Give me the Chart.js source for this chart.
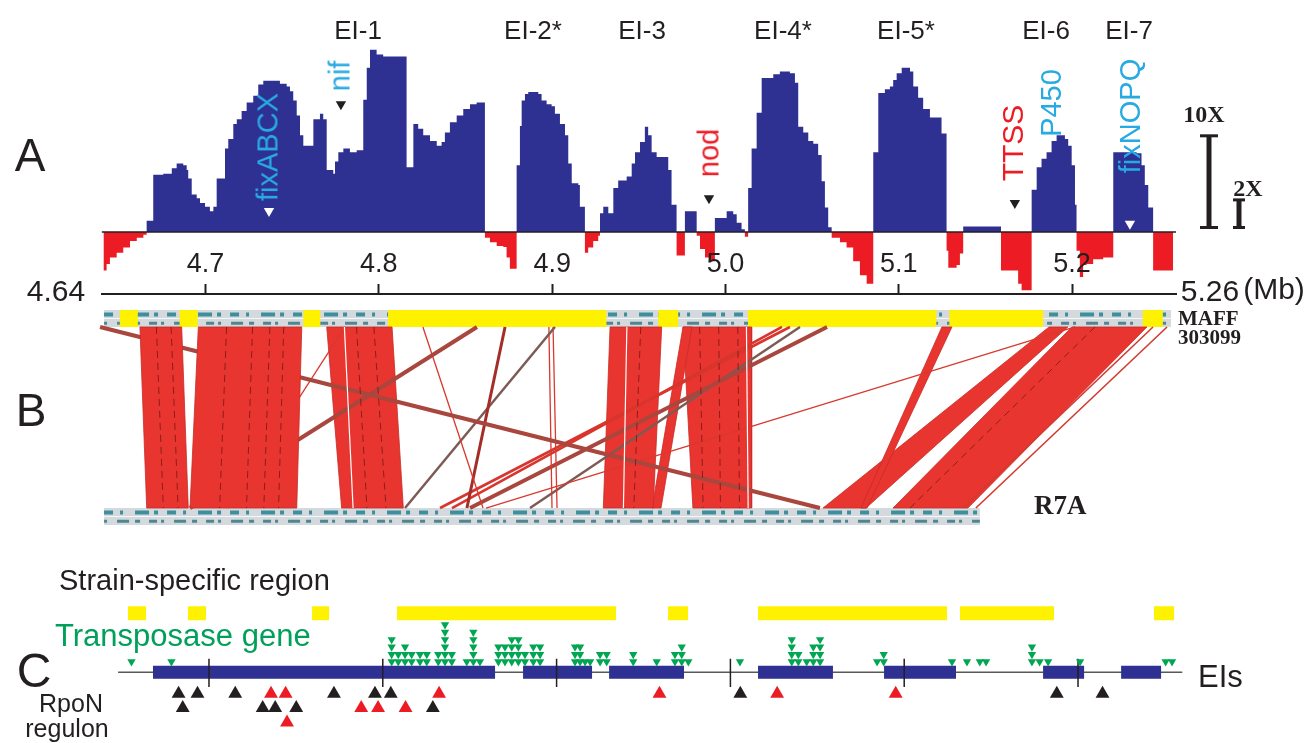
<!DOCTYPE html>
<html>
<head>
<meta charset="utf-8">
<title>EI profile, synteny and gene map</title>
<script src="https://cdn.jsdelivr.net/npm/chart.js@4.4.1/dist/chart.umd.min.js"></script>
<style>
html,body{margin:0;padding:0;background:#fff;}
#wrap{position:relative;width:1308px;height:743px;overflow:hidden;background:#fff;font-family:"Liberation Sans",Arial,Helvetica,sans-serif;color:#231f20;}
canvas{position:absolute;left:0;}
.t{position:absolute;white-space:nowrap;line-height:1;transform:translate(-50%,-50%);}
.l{position:absolute;white-space:nowrap;line-height:1;transform:translate(0,-50%);}
.r{position:absolute;white-space:nowrap;line-height:1;transform:translate(-50%,-50%) rotate(-90deg);}
.serif{font-family:"Liberation Serif","Times New Roman",serif;font-weight:bold;}
</style>
</head>
<body>
<div id="wrap">
<canvas id="cA" width="1308" height="300" style="top:0px"></canvas>
<canvas id="cS" width="84" height="300" style="top:0px;left:1182px"></canvas>
<canvas id="cB" width="1308" height="235" style="top:300px"></canvas>
<canvas id="cC" width="1308" height="150" style="top:590px"></canvas>

<!-- panel letters -->
<div class="t" style="left:30px;top:155px;font-size:46px">A</div>
<div class="t" style="left:31px;top:410px;font-size:46px">B</div>
<div class="t" style="left:34px;top:671px;font-size:48px">C</div>

<!-- EI labels -->
<div class="t" style="left:358px;top:30px;font-size:26px">EI-1</div>
<div class="t" style="left:533px;top:30px;font-size:26px">EI-2*</div>
<div class="t" style="left:642px;top:30px;font-size:26px">EI-3</div>
<div class="t" style="left:783px;top:30px;font-size:26px">EI-4*</div>
<div class="t" style="left:906px;top:30px;font-size:26px">EI-5*</div>
<div class="t" style="left:1046px;top:30px;font-size:26px">EI-6</div>
<div class="t" style="left:1129px;top:30px;font-size:26px">EI-7</div>

<!-- gene labels -->
<div class="r" style="left:268px;top:147px;font-size:29px;color:#27aae1">fixABCX</div>
<div class="r" style="left:340px;top:76px;font-size:29px;color:#27aae1">nif</div>
<div class="r" style="left:709px;top:153px;font-size:29px;color:#ed1c24">nod</div>
<div class="r" style="left:1013px;top:143px;font-size:30px;color:#ed1c24">TTSS</div>
<div class="r" style="left:1051px;top:103px;font-size:29px;color:#27aae1">P450</div>
<div class="r" style="left:1130px;top:116px;font-size:29px;color:#27aae1">fixNOPQ</div>

<!-- scale bar labels -->
<div class="t serif" style="left:1204px;top:114px;font-size:24px">10X</div>
<div class="t serif" style="left:1248px;top:188px;font-size:24px">2X</div>

<!-- axis end labels -->
<div class="t" style="left:56px;top:291px;font-size:30px">4.64</div>
<div class="t" style="left:1210px;top:291px;font-size:30px">5.26</div>
<div class="t" style="left:1274px;top:289px;font-size:30px">(Mb)</div>

<!-- panel B labels -->
<div class="l serif" style="left:1178px;top:318px;font-size:21px">MAFF</div>
<div class="l serif" style="left:1178px;top:337px;font-size:21px">303099</div>
<div class="l serif" style="left:1034px;top:505px;font-size:27px">R7A</div>

<!-- panel C labels -->
<div class="l" style="left:59px;top:580px;font-size:29px">Strain-specific region</div>
<div class="l" style="left:55px;top:635px;font-size:31px;color:#00a05a">Transposase gene</div>
<div class="l" style="left:1198px;top:676px;font-size:31px">EIs</div>
<div class="t" style="left:71px;top:703px;font-size:25px">RpoN</div>
<div class="t" style="left:67px;top:728px;font-size:25px">regulon</div>
</div>

<script>
// ---------------- DATA ----------------
// Panel A: axis ticks (Mb)
const tickValues = [4.7, 4.8, 4.9, 5.0, 5.1, 5.2];

// Panel A: log10 enrichment profile (step starts, Mb) and values
const profileMb = [4.6410,4.6429,4.6448,4.6487,4.6525,4.6564,4.6603,4.6641,
 4.6660,4.6698,4.6756,4.6805,4.6833,4.6871,4.6891,4.6900,4.6920,4.6949,4.6968,4.6997,4.7025,4.7045,4.7064,
 4.7112,4.7131,4.7160,4.7180,4.7208,4.7237,4.7275,4.7304,4.7333,4.7429,4.7468,4.7487,4.7506,4.7526,4.7545,
 4.7564,4.7622,4.7660,4.7679,4.7699,4.7737,4.7747,4.7766,4.7795,4.7833,4.7872,4.7910,4.7930,4.7949,4.7987,
 4.8025,4.8160,4.8199,4.8227,4.8256,4.8295,4.8334,4.8362,4.8381,4.8410,4.8449,4.8487,4.8526,4.8564,
 4.8612,4.8641,4.8680,4.8718,4.8737,4.8756,
 4.8795,4.8814,4.8824,4.8843,4.8862,4.8920,4.8939,4.8968,4.8997,4.9016,4.9045,4.9074,4.9093,4.9113,4.9151,4.9160,
 4.9189,4.9208,4.9237,4.9266,
 4.9276,4.9295,4.9324,4.9353,4.9381,4.9430,4.9459,4.9478,4.9507,4.9535,4.9554,4.9574,4.9603,4.9670,4.9689,
 4.9718,4.9766,4.9834,4.9853,4.9882,4.9910,
 4.9939,5.0007,5.0045,5.0065,5.0093,5.0112,
 5.0131,5.0151,5.0180,5.0209,5.0276,5.0314,5.0372,5.0401,5.0420,5.0449,5.0478,5.0507,5.0535,5.0555,5.0574,5.0593,
 5.0613,5.0661,5.0699,5.0737,5.0776,5.0815,
 5.0853,5.0882,5.0920,5.0949,5.0968,5.0988,5.1017,5.1065,5.1084,5.1112,5.1141,5.1180,5.1247,
 5.1276,5.1286,5.1334,5.1353,5.1372,5.1590,5.1689,5.1709,
 5.1767,5.1796,5.1824,5.1853,5.1882,5.1911,5.1959,5.1978,5.1998,5.2017,
 5.2026,5.2045,5.2064,5.2084,5.2122,5.2180,
 5.2238,5.2373,5.2401,5.2420,5.2440,5.2468,5.2584];
const profileLogRatio = [-0.41,-0.34,-0.27,-0.22,-0.165,-0.095,-0.06,-0.03,
 0.12,0.61,0.62,0.68,0.73,0.71,0.66,0.57,0.40,0.36,0.31,0.27,0.22,0.27,0.57,
 0.89,0.99,1.15,1.20,1.29,1.38,1.45,1.57,1.61,1.58,1.55,1.50,1.40,1.24,1.03,
 0.92,1.20,1.26,1.20,0.66,0.62,0.75,0.85,0.89,0.85,0.87,1.41,1.75,1.94,1.89,
 1.87,0.69,1.15,1.10,1.03,0.97,0.92,0.96,1.06,1.17,1.24,1.31,1.36,1.38,
 -0.06,-0.11,-0.15,-0.16,-0.27,-0.39,
 0.71,1.13,1.40,1.47,1.49,1.47,1.40,1.36,1.34,1.26,1.15,1.03,0.73,0.52,0.50,0.27,
 -0.22,-0.165,-0.095,-0.04,
 0.20,0.27,0.20,0.47,0.55,0.59,0.73,0.85,0.96,1.12,1.03,0.85,0.80,0.66,0.29,
 -0.25,0.22,-0.04,-0.18,-0.27,-0.31,
 0.15,0.22,0.19,0.10,0.03,-0.05,
 0.47,0.89,1.27,1.64,1.68,1.71,1.69,1.59,1.12,1.06,0.97,0.94,0.82,0.54,0.26,0.05,
 -0.06,-0.11,-0.165,-0.31,-0.46,-0.55,
 0.85,1.48,1.52,1.55,1.62,1.69,1.75,1.71,1.55,1.43,1.31,1.22,1.05,
 -0.20,-0.38,-0.35,-0.23,0.06,-0.41,-0.55,-0.62,
 0.45,0.69,0.78,0.85,0.97,1.03,0.99,0.92,0.71,0.29,
 -0.20,-0.48,-0.35,-0.34,-0.29,-0.27,
 0.85,0.84,0.71,0.50,0.26,-0.41,-0.41];

// Panel A: gene markers (position Mb, log10 height)
const markerWhiteMb = [4.7366, 5.2334];
const markerWhiteLog = [0.224, 0.087];
const markerBlackMb = [4.7781, 4.9905, 5.1670];
const markerBlackLog = [1.361, 0.361, 0.308];

// Panel A: scale bars (log10 of fold change)
const scaleBarLabels = ['10X', '2X'];
const scaleBarLog = [1.0, 0.301];

// Strain-specific regions (Mb)
const strainStart = [4.6534, 4.6879, 4.7593, 4.8082, 4.9641, 5.0159, 5.1321, 5.2437];
const strainEnd   = [4.6638, 4.6983, 4.7691, 4.9342, 4.9756, 5.1246, 5.1862, 5.2553];

// Panel B: genome tracks (Mb on plotted axis)
const mafTrack = [4.6443, 5.2623];
const r7aTrack = [4.6443, 5.1497];

// Panel B: syntenic blocks (MAFF 303099 start/end, R7A start/end)
const ribbonMafStart = [4.6650, 4.6987, 4.7728, 4.9363, 4.9784, 4.9784, 5.1278, 5.1896, 5.2028];
const ribbonMafEnd   = [4.6891, 4.7584, 4.8105, 4.9661, 4.9836, 5.0180, 5.1336, 5.2005, 5.2461];
const ribbonR7aStart = [4.6689, 4.6939, 4.7814, 4.9324, 4.9605, 4.9841, 5.0811, 5.0592, 5.0996];
const ribbonR7aEnd   = [4.6929, 4.7555, 4.8170, 4.9612, 4.9657, 5.0180, 5.0846, 5.0840, 5.1428];

// Panel B: single matches (MAFF position, R7A position, kind)
const linkMaf = [4.6420, 4.8595, 4.7833, 4.8283, 4.8757, 4.9045, 4.9010, 4.9034, 5.2046, 5.0401, 5.0355, 5.0615, 5.0459, 5.2496, 5.2577, 5.2161,
 4.6745, 4.6830, 4.7150, 4.7300, 4.7400, 4.7480, 4.7900, 4.8000, 4.9540, 4.9880, 4.9990, 5.0100, 4.7830, 4.9460, 5.0150];
const linkR7a = [5.0574, 4.6939, 4.7158, 4.8630, 4.8537, 4.8180, 4.9028, 4.9057, 4.8647, 4.8382, 4.8451, 4.8555, 4.8901, 5.1399, 5.1474, 5.1094,
 4.6785, 4.6870, 4.7110, 4.7265, 4.7365, 4.7450, 4.7960, 4.8070, 4.9500, 4.9900, 5.0000, 5.0110, 4.7880, 4.9440, 5.0160];
const linkKind = ['brown','brown','thin','thin','darkred','grey','thin','thin','thin','red','red','brown','grey','outline','outline','inner',
 'inner','inner','inner','inner','inner','inner','inner','inner','inner','inner','inner','inner','gap','gap','gap'];

// Panel C: EIs (Mb)
const eiLine = [4.6477, 5.2616];
const eiStart = [4.6678, 4.8807, 4.9302, 5.0159, 5.0884, 5.1799, 5.2248];
const eiEnd   = [4.8646, 4.9204, 4.9733, 5.0590, 5.1298, 5.2035, 5.2478];

// Panel C: transposase genes (Mb, number stacked)
const transposaseMb = [4.6554,4.6784,4.8051,4.8089,4.8128,4.8166,4.8214,4.8253,4.8319,4.8358,4.8397,4.8483,4.8521,4.8559,
 4.8665,4.8703,4.8742,4.8780,4.8818,4.8866,4.8905,4.9106,4.9135,4.9164,4.9193,4.9250,4.9288,4.9441,4.9576,4.9681,4.9720,4.9758,
 5.0055,5.0353,5.0391,5.0439,5.0477,5.0516,5.0844,5.0882,5.1275,5.1361,5.1435,5.1471,5.1735,5.1779,5.1828,5.2012,5.2504,5.2541];
const transposaseCount = [1,1,4,2,3,2,2,2,2,6,2,1,5,1,
 3,3,4,4,2,3,3,3,3,1,1,2,2,2,1,2,3,1,
 1,4,2,1,3,4,1,2,1,1,1,1,3,1,1,1,1,1];

// Panel C: RpoN regulon (Mb, row)
const rpoNBlackMb  = [4.6825,4.6934,4.7151,4.7719,4.7955,4.8046,4.6849,4.7309,4.7381,4.7502,4.8288,5.0057,5.1878,5.2141];
const rpoNBlackRow = [1,1,1,1,1,1,2,2,2,2,2,1,1,1];
const rpoNRedMb    = [4.7357,4.7441,4.8324,4.7876,4.7973,4.8131,4.7449,4.9592,5.0269,5.0951];
const rpoNRedRow   = [1,1,1,2,2,2,3,1,1,1];

// ---------------- STYLE / LAYOUT ----------------
const INK='#231f20', BLUE='#2e3192', RED='#ed1c24', YELLOW='#fff200', GREEN='#00a651', RIB='#e8352f';
Chart.defaults.font.family = '"Liberation Sans", Arial, Helvetica, sans-serif';
Chart.defaults.color = INK;
const common = {responsive:false, maintainAspectRatio:false, animation:false, events:[],
  plugins:{legend:{display:false}, tooltip:{enabled:false}}};
const Y_A = {type:'linear', min:-0.66, max:2.045, display:false};
function segs(starts, ends, y){
  const out=[];
  starts.forEach((s,i)=>{ out.push({x:s,y:y},{x:ends[i],y:y},{x:null,y:null}); });
  return out;
}
function pts(xs, ys){ return xs.map((x,i)=>({x:x,y:ys[i]})); }

// ---------------- PANEL A ----------------
new Chart(document.getElementById('cA'), {
  type:'line',
  data:{datasets:[
    {data:pts(profileMb, profileLogRatio), stepped:true, borderColor:'rgba(0,0,0,0)', borderWidth:0,
     pointRadius:0, fill:{target:'origin', above:BLUE, below:RED}, order:3},
    {data:[{x:4.64,y:0},{x:5.26,y:0}], borderColor:INK, borderWidth:1.6, pointRadius:0, fill:false, order:2},
    {type:'scatter', data:pts(markerWhiteMb, markerWhiteLog), pointStyle:'triangle', pointRotation:180,
     pointRadius:6, pointBackgroundColor:'#ffffff', pointBorderWidth:0, order:1},
    {type:'scatter', data:pts(markerBlackMb, markerBlackLog), pointStyle:'triangle', pointRotation:180,
     pointRadius:6, pointBackgroundColor:INK, pointBorderWidth:0, order:1}
  ]},
  options:Object.assign({}, common, {
    layout:{padding:{left:101.6, right:132, top:40, bottom:3}},
    scales:{
      x:{type:'linear', min:4.64, max:5.26, position:'bottom',
        afterBuildTicks:(ax)=>{ ax.ticks = tickValues.map(v=>({value:v})); },
        afterFit:(ax)=>{ ax.height = 0; },
        grid:{drawOnChartArea:false, drawTicks:true, tickLength:-10, tickWidth:2, tickColor:INK, z:1},
        border:{display:true, color:INK, width:2, z:1},
        ticks:{mirror:true, padding:13, z:1, autoSkip:false, maxRotation:0, minRotation:0, color:INK, font:{size:27},
          callback:(v)=>Number(v).toFixed(1)}},
      y:Y_A
    }
  })
});

// scale bars
new Chart(document.getElementById('cS'), {
  type:'line',
  data:{labels:scaleBarLabels, datasets:scaleBarLabels.map((lab,i)=>({
    data:[{x:lab,y:0},{x:lab,y:scaleBarLog[i]}], borderColor:INK, borderWidth:5,
    pointStyle:'line', pointRadius:(i===0?9:6), pointBorderWidth:3, pointBorderColor:INK, pointBackgroundColor:INK}))},
  options:Object.assign({}, common, {
    layout:{padding:{left:0, right:0, top:40, bottom:3}},
    scales:{x:{type:'category', offset:true, display:false}, y:Y_A}
  })
});

// ---------------- PANEL B ----------------
const TOP_Y = 1.047, BOT_Y = -0.047;
const linkStyle = {
  brown:{color:'#a9463d', width:4, order:2},
  thin:{color:'#d8392f', width:1.3, order:2},
  darkred:{color:'#a52d28', width:3, order:2},
  grey:{color:'#7d5b55', width:2.5, order:2},
  red:{color:'#d7352d', width:2.6, order:2},
  outline:{color:'#d23a31', width:1.6, order:2},
  inner:{color:'#8e1d1a', width:1, order:0, dash:[7,5]},
  gap:{color:'#ffffff', width:1.2, order:0}
};
const bSets = [];
[[mafTrack, TOP_Y],[r7aTrack, BOT_Y]].forEach(([tr, y])=>{
  bSets.push({data:[{x:tr[0],y:y},{x:tr[1],y:y}], borderColor:'#d3d9dc', borderWidth:17, pointRadius:0, order:9});
  bSets.push({data:[{x:tr[0],y:y+0.022},{x:tr[1],y:y+0.022}], borderColor:'#3d8f9d', borderWidth:4,
    borderDash:[9,7,3,12,14,5,4,9], pointRadius:0, order:8});
  bSets.push({data:[{x:tr[0],y:y-0.026},{x:tr[1],y:y-0.026}], borderColor:'#4f8791', borderWidth:3,
    borderDash:[3,10,12,6,5,9,8,4], pointRadius:0, order:8});
  bSets.push({data:[{x:tr[0],y:y},{x:tr[1],y:y}], borderColor:'#f5f7f8', borderWidth:1, pointRadius:0, order:8});
});
bSets.push({data:segs(strainStart, strainEnd, TOP_Y), borderColor:YELLOW, borderWidth:17, pointRadius:0, order:7});
ribbonMafStart.forEach((s,i)=>{
  // the two left-most blocks overlay the crossing matches, the others lie beneath them
  bSets.push({data:[{x:s,y:1},{x:ribbonMafEnd[i],y:1},{x:ribbonR7aEnd[i],y:0},{x:ribbonR7aStart[i],y:0},{x:s,y:1}],
    fill:'shape', backgroundColor:RIB, borderColor:'#c82b27', borderWidth:0.8, pointRadius:0, order:(i<2?1:5)});
});
linkMaf.forEach((m,i)=>{
  const st = linkStyle[linkKind[i]];
  bSets.push({data:[{x:m,y:1},{x:linkR7a[i],y:0}], borderColor:st.color, borderWidth:st.width,
    borderDash:st.dash||[], pointRadius:0, fill:false, order:st.order});
});
new Chart(document.getElementById('cB'), {
  type:'line',
  data:{datasets:bSets},
  options:Object.assign({}, common, {
    layout:{padding:{left:96.6, right:137, top:0, bottom:0}},
    scales:{x:{type:'linear', min:4.64, max:5.26, display:false},
            y:{type:'linear', min:-0.149, max:1.149, display:false}}
  })
});

// ---------------- PANEL C ----------------
const Y_STRAIN = 7.95, GREEN_BASE = 1.4, GREEN_STEP = 1.0, RPON_BASE = -2.9, RPON_STEP = -1.95;
const TICK_TOP = 1.8, TICK_BOTTOM = -2.0;
const transposasePts = [];
transposaseMb.forEach((x,i)=>{ for(let k=0;k<transposaseCount[i];k++) transposasePts.push({x:x, y:GREEN_BASE + k*GREEN_STEP}); });
const rowY = (r)=> RPON_BASE + (r-1)*RPON_STEP;
new Chart(document.getElementById('cC'), {
  type:'line',
  data:{datasets:[
    {data:segs(strainStart, strainEnd, Y_STRAIN), borderColor:YELLOW, borderWidth:14, pointRadius:0, order:6},
    {data:[{x:eiLine[0],y:0},{x:eiLine[1],y:0}], borderColor:'#58595b', borderWidth:1.5, pointRadius:0, order:5},
    {data:segs(eiStart, eiEnd, 0), borderColor:BLUE, borderWidth:13, pointRadius:0, order:4},
    {data:tickValues.flatMap(v=>[{x:v,y:TICK_TOP},{x:v,y:TICK_BOTTOM},{x:null,y:null}]), borderColor:INK, borderWidth:1.5, pointRadius:0, order:3},
    {type:'scatter', data:transposasePts, pointStyle:'triangle', pointRotation:180, pointRadius:4.8,
     pointBackgroundColor:GREEN, pointBorderWidth:0, order:2},
    {type:'scatter', data:rpoNBlackMb.map((x,i)=>({x:x,y:rowY(rpoNBlackRow[i])})), pointStyle:'triangle',
     pointRadius:8, pointBackgroundColor:INK, pointBorderWidth:0, order:1},
    {type:'scatter', data:rpoNRedMb.map((x,i)=>({x:x,y:rowY(rpoNRedRow[i])})), pointStyle:'triangle',
     pointRadius:8, pointBackgroundColor:RED, pointBorderWidth:0, order:1}
  ]},
  options:Object.assign({}, common, {
    layout:{padding:{left:104.7, right:125.7, top:0, bottom:0}},
    scales:{x:{type:'linear', min:4.64, max:5.26, display:false},
            y:{type:'linear', min:-8.07, max:10.0, display:false}}
  })
});
</script>
</body>
</html>
